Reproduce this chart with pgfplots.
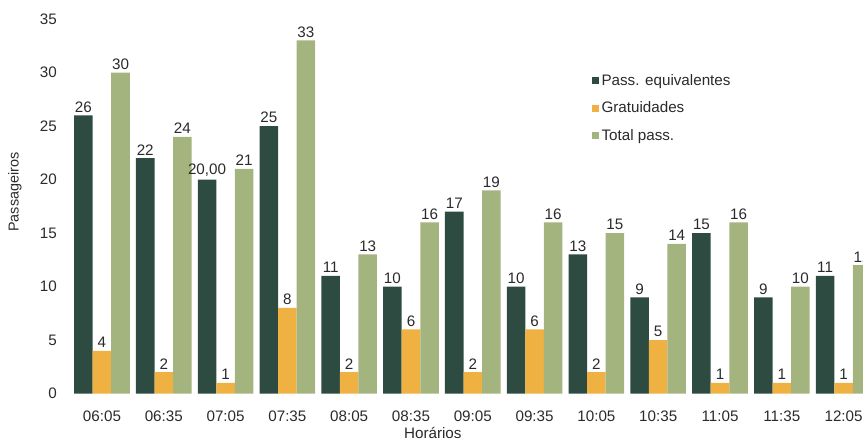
\documentclass[border=0pt]{standalone}
\usepackage{fontspec}
\setmainfont{Liberation Sans}
\usepackage{pgfplots}
\pgfplotsset{compat=1.18}
\usepackage{pgfplotstable}
\definecolor{cdark}{HTML}{2D4B40}
\definecolor{corange}{HTML}{EEB142}
\definecolor{clight}{HTML}{A4B47F}
\definecolor{ctext}{HTML}{2A2A2A}
\pgfplotstableread{
x y lab
0 26 26
1 22 22
2 20 20,00
3 25 25
4 11 11
5 10 10
6 17 17
7 10 10
8 13 13
9 9 9
10 15 15
11 9 9
12 11 11
}\equiv
\pgfplotstableread{
x y
0 4
1 2
2 1
3 8
4 2
5 6
6 2
7 6
8 2
9 5
10 1
11 1
12 1
}\grat
\pgfplotstableread{
x y
0 30
1 24
2 21
3 33
4 13
5 16
6 19
7 16
8 15
9 14
10 16
11 10
12 12
}\total
\begin{document}
\begin{tikzpicture}
\def\fs{\fontsize{11.4}{13}\selectfont}
\begin{axis}[
  x=46.35pt, y=8.025pt,
  xmin=-0.6, xmax=12.314, ymin=0, ymax=35,
  ybar=0pt, bar width=13.9pt,
  axis line style={draw=none}, tick style={draw=none},
  xtick={0,...,12},
  xticklabels={06:05,06:35,07:05,07:35,08:05,08:35,09:05,09:35,10:05,10:35,11:05,11:35,12:05},
  ytick={0,5,...,35},
  /pgf/number format/assume math mode=true,
  ticklabel style={font=\fs, text=ctext},
  xticklabel style={yshift=-5pt},
  yticklabel style={xshift=-2.5pt},
  xlabel={Horários}, ylabel={Passageiros},
  xlabel style={font=\fs, text=ctext, at={(axis description cs:0.461,-0.105)}, anchor=center},
  ylabel style={font=\fontsize{10.8}{12}\selectfont, text=ctext, at={(axis description cs:0,0.538)}, anchor=center, yshift=37.5pt},
  nodes near coords,
  every node near coord/.append style={font=\fs, text=ctext, inner sep=2pt},
  legend style={draw=none, fill=none, font=\fs, text=ctext, at={(axis description cs:0.655,0.868)}, anchor=north west, row sep=7pt, cells={anchor=west}},
  legend image code/.code={\fill[#1] (0pt,-2.6pt) rectangle (5.2pt,2.6pt);},
  clip=true,
]
\addplot[fill=cdark, draw=none, point meta=explicit symbolic, nodes near coords={\pgfplotspointmeta}] table[x=x, y=y, meta=lab] {\equiv};
\addplot[fill=corange, draw=none] table[x=x, y=y] {\grat};
\addplot[fill=clight, draw=none] table[x=x, y=y] {\total};
\legend{Pass. equivalentes, Gratuidades, Total pass.}
\coordinate (bbl) at (axis cs:-1.65,-4.44);
\coordinate (btr) at (axis cs:12.314,36.78);
\end{axis}
\pgfresetboundingbox
\useasboundingbox (bbl) rectangle (btr);
\end{tikzpicture}
\end{document}
